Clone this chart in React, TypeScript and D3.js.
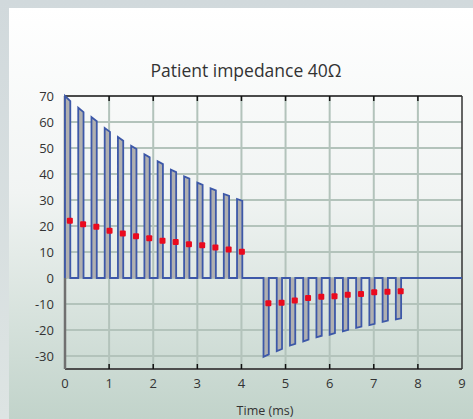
import React from "react";
import * as d3 from "d3";

// Stimulation waveform: biphasic pulse train (current, mA) vs time (ms)
const posStarts = [0, 0.3, 0.6, 0.9, 1.2, 1.5, 1.8, 2.1, 2.4, 2.7, 3.0, 3.3, 3.6, 3.9];
const posPeak = [70, 65.5, 61.9, 57.7, 54.2, 50.8, 47.6, 44.9, 41.7, 39.1, 36.7, 34.5, 32.3, 30.4];
const posTail = [68, 63.8, 60.3, 56.2, 52.8, 49.6, 46.4, 43.8, 40.7, 38.2, 35.8, 33.7, 31.6, 29.7];
const posMarks = [22.0, 20.7, 19.7, 18.2, 17.1, 16.1, 15.3, 14.3, 13.8, 13.0, 12.6, 11.7, 11.0, 10.1];

const negStarts = [4.5, 4.8, 5.1, 5.4, 5.7, 6.0, 6.3, 6.6, 6.9, 7.2, 7.5];
const negPeak = [-30.3, -28.1, -26.0, -24.4, -22.8, -21.8, -20.5, -19.2, -18.1, -16.9, -15.9];
const negTail = [-29.4, -27.3, -25.3, -23.7, -22.2, -21.2, -19.9, -18.7, -17.6, -16.4, -15.5];
const negMarks = [-9.7, -9.5, -8.7, -7.7, -7.2, -7.0, -6.4, -6.2, -5.5, -5.3, -5.1];

const xTicks = [0, 1, 2, 3, 4, 5, 6, 7, 8, 9];
const yTicks = [-30, -20, -10, 0, 10, 20, 30, 40, 50, 60, 70];

const PULSE_WIDTH = 0.12;
const MARK_OFFSET = 0.11;
const T_END = 9;

const W = 473;
const H = 419;
const M = { left: 65, right: 462, top: 96, bottom: 369 };
const FONT = "'Open Sans', 'DejaVu Sans', sans-serif";

export default function App() {
  const x = d3.scaleLinear().domain([0, 9]).range([M.left, M.right]);
  const y = d3.scaleLinear().domain([-35, 70]).range([M.bottom, M.top]);

  const pulses = [
    ...posStarts.map((t, i) => ({ t, a: posPeak[i], b: posTail[i] })),
    ...negStarts.map((t, i) => ({ t, a: negPeak[i], b: negTail[i] })),
  ];

  const line = d3
    .line<[number, number]>()
    .x((d) => x(d[0]))
    .y((d) => y(d[1]));

  const wavePts: [number, number][] = [[0, 0]];
  pulses.forEach((p) => {
    wavePts.push([p.t, 0], [p.t, p.a], [p.t + PULSE_WIDTH, p.b], [p.t + PULSE_WIDTH, 0]);
  });
  wavePts.push([T_END, 0]);

  const marks = [
    ...posStarts.map((t, i) => ({ t: t + MARK_OFFSET, v: posMarks[i] })),
    ...negStarts.map((t, i) => ({ t: t + MARK_OFFSET, v: negMarks[i] })),
  ];

  const gridColor = "#b3c3bb";
  const textColor = "#333";

  return (
    <div style={{ position: "fixed", left: 0, top: 0, width: W, height: H }}>
      <svg width={W} height={H} style={{ display: "block" }}>
        <defs>
          <linearGradient id="panelBg" x1="0" y1="0" x2="0" y2="1">
            <stop offset="0" stopColor="#ffffff" />
            <stop offset="0.45" stopColor="#f1f4f3" />
            <stop offset="1" stopColor="#c1d3ca" />
          </linearGradient>
          <linearGradient id="outerBg" x1="0" y1="0" x2="0" y2="1">
            <stop offset="0" stopColor="#d1d9dc" />
            <stop offset="1" stopColor="#dde4e3" />
          </linearGradient>
        </defs>
        <rect x={0} y={0} width={W} height={H} fill="url(#outerBg)" />
        <rect x={9} y={8} width={W - 9} height={H - 8} fill="url(#panelBg)" />

        {/* grid */}
        {xTicks.slice(1, -1).map((t) => (
          <line key={"gx" + t} x1={x(t)} x2={x(t)} y1={M.top} y2={M.bottom} stroke={gridColor} strokeWidth={2} />
        ))}
        {yTicks.slice(0, -1).map((v) => (
          <line key={"gy" + v} x1={M.left} x2={M.right} y1={y(v)} y2={y(v)} stroke={gridColor} strokeWidth={2} />
        ))}

        {/* frame */}
        <line x1={M.left} x2={M.right} y1={M.top} y2={M.top} stroke="#111" strokeWidth={1.5} />
        <line x1={M.left} x2={M.right} y1={M.bottom} y2={M.bottom} stroke="#4d4d4d" strokeWidth={2} />
        <line x1={M.left} x2={M.left} y1={M.top} y2={M.bottom} stroke="#707070" strokeWidth={2.5} />
        <line x1={M.right} x2={M.right} y1={M.top} y2={M.bottom} stroke="#333" strokeWidth={1.5} />
        {xTicks.slice(1, -1).map((t) => (
          <g key={"tk" + t}>
            <line x1={x(t)} x2={x(t)} y1={M.top} y2={M.top + 5} stroke="#111" strokeWidth={1.5} />
            <line x1={x(t)} x2={x(t)} y1={M.bottom} y2={M.bottom - 5} stroke="#111" strokeWidth={1.5} />
          </g>
        ))}

        {/* pulse fills */}
        {pulses.map((p, i) => (
          <path
            key={"f" + i}
            d={line([[p.t, 0], [p.t, p.a], [p.t + PULSE_WIDTH, p.b], [p.t + PULSE_WIDTH, 0]])! + "Z"}
            fill="#b0b0b0"
            stroke="none"
          />
        ))}
        <path d={line(wavePts)!} fill="none" stroke="#3d58a8" strokeWidth={1.8} strokeLinejoin="miter" />

        {/* markers */}
        {marks.map((m, i) => (
          <rect
            key={"m" + i}
            x={x(m.t) - 3}
            y={y(m.v) - 3}
            width={6}
            height={6}
            rx={1}
            fill="#ea0a1e"
          />
        ))}

        {/* tick labels */}
        {yTicks.map((v) => (
          <text key={"yl" + v} x={54} y={y(v)} dy="0.35em" textAnchor="end" fontFamily={FONT} fontSize={13} fill={textColor}>
            {v}
          </text>
        ))}
        {xTicks.map((t) => (
          <text key={"xl" + t} x={x(t)} y={388} textAnchor="middle" fontFamily={FONT} fontSize={13} fill={textColor}>
            {t}
          </text>
        ))}

        <text x={246} y={77} textAnchor="middle" fontFamily={FONT} fontSize={17.5} fill={textColor}>
          Patient impedance 40Ω
        </text>
        <text x={265} y={415} textAnchor="middle" fontFamily={FONT} fontSize={12.5} fill={textColor}>
          Time (ms)
        </text>
      </svg>
    </div>
  );
}
